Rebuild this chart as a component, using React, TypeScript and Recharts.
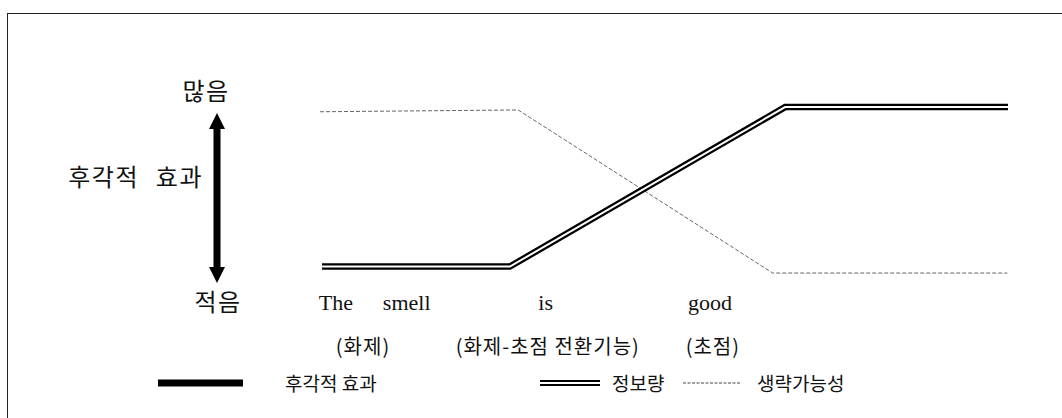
import React from "react";
import { LineChart, Line, XAxis, YAxis, Legend, Customized } from "recharts";

// Horizontal position along the sentence (0 = start of "The", 100 = end of "good")
const infoX = [0.3, 27.6, 67.6, 100];
// 정보량: low over the topic, rising through the verb, high on the focus
const infoY = [5.8, 5.8, 94.4, 94.4];

const omitX = [0, 28.8, 65.8, 99.9];
// 생략가능성: high over the topic, falling to low on the focus
const omitY = [91.8, 92.8, 2.2, 2.2];

const wordLabels = ["The", "smell", "is", "good"];
const wordTicks = [2.3, 12.6, 32.8, 56.7];

const glossLabels = ["(화제)", "(화제-초점 전환기능)", "(초점)"];
const glossTicks = [6.25, 33.1, 57.1];

const scaleLabels = ["많음", "후각적 효과", "적음"];
const legendNames = ["후각적 효과", "정보량", "생략가능성"];

const infoData = infoX.map((x, i) => ({ x, v: infoY[i] }));
const omitData = omitX.map((x, i) => ({ x, v: omitY[i] }));

const W = 1062;
const H = 418;
const KO = "'Noto Sans CJK KR', 'Noto Sans', sans-serif";
const SERIF = "'Liberation Serif', 'DejaVu Serif', serif";

const labelFor = (ticks: number[], labels: string[], value: number) => {
  let best = 0;
  ticks.forEach((t, i) => {
    if (Math.abs(t - value) < Math.abs(ticks[best] - value)) best = i;
  });
  return labels[best];
};

const WordTick = (props: any) => {
  const { x, y, payload } = props;
  return (
    <text x={x} y={y + 33} textAnchor="middle" fontFamily={SERIF} fontSize={22} fill="#111">
      {labelFor(wordTicks, wordLabels, payload.value)}
    </text>
  );
};

const GlossTick = (props: any) => {
  const { x, y, payload } = props;
  return (
    <text
      x={x}
      y={y + 76}
      textAnchor="middle"
      fontFamily={KO}
      fontSize={20}
      letterSpacing={1}
      fill="#111"
    >
      {labelFor(glossTicks, glossLabels, payload.value)}
    </text>
  );
};

// Vertical scale on the left: labels plus a double-headed arrow
const SideScale = () => (
  <g fontFamily={KO} fill="#111">
    <text x={206} y={100} textAnchor="middle" fontSize={24} letterSpacing={1.5}>{scaleLabels[0]}</text>
    <text x={203} y={186} textAnchor="end" fontSize={24} letterSpacing={1.5} wordSpacing={10}>
      {scaleLabels[1]}
    </text>
    <text x={218} y={311} textAnchor="middle" fontSize={24} letterSpacing={1.5}>{scaleLabels[2]}</text>
    <path
      d="M217,113 L225,129 L220.5,129 L220.5,267 L225,267 L217,283 L209,267 L213.5,267 L213.5,129 L209,129 Z"
      fill="#000"
    />
  </g>
);

const legendLayout = [
  { swatchLeft: 158, swatchWidth: 85, textLeft: 285 },
  { swatchLeft: 540, swatchWidth: 60, textLeft: 612 },
  { swatchLeft: 683, swatchWidth: 57, textLeft: 757 },
];

const Swatch = ({ kind, width }: { kind: number; width: number }) => {
  if (kind === 0) {
    return (
      <svg width={width} height={12}>
        <line x1={0} y1={6} x2={width} y2={6} stroke="#000" strokeWidth={7} />
      </svg>
    );
  }
  if (kind === 1) {
    return (
      <svg width={width} height={12}>
        <line x1={0} y1={4} x2={width} y2={4} stroke="#000" strokeWidth={2} />
        <line x1={0} y1={8} x2={width} y2={8} stroke="#000" strokeWidth={2} />
      </svg>
    );
  }
  return (
    <svg width={width} height={12}>
      <line x1={0} y1={6} x2={width} y2={6} stroke="#444" strokeWidth={1} strokeDasharray="3 1.5" />
    </svg>
  );
};

const renderLegend = () => (
  <div style={{ position: "relative", width: W, height: 30 }}>
    {legendNames.map((name, i) => (
      <React.Fragment key={name}>
        <div style={{ position: "absolute", left: legendLayout[i].swatchLeft, top: 9, lineHeight: 0 }}>
          <Swatch kind={i} width={legendLayout[i].swatchWidth} />
        </div>
        <div
          style={{
            position: "absolute",
            left: legendLayout[i].textLeft,
            top: 0,
            fontFamily: KO,
            fontSize: 19,
            lineHeight: "30px",
            color: "#111",
            whiteSpace: "pre",
          }}
        >
          {name}
        </div>
      </React.Fragment>
    ))}
  </div>
);

export default function App() {
  return (
    <div style={{ position: "relative", width: W, height: H, overflow: "hidden", background: "#fff" }}>
      <style>{"body{margin:0}"}</style>
      <div
        style={{
          position: "absolute",
          left: 7,
          top: 13,
          width: W + 20,
          height: H + 20,
          borderTop: "1.5px solid #222",
          borderLeft: "1.5px solid #222",
        }}
      />
      <LineChart
        width={W}
        height={H}
        margin={{ top: 97, right: 54, bottom: 109, left: 320 }}
        style={{ position: "absolute", left: 0, top: 0 }}
      >
        <XAxis
          type="number"
          dataKey="x"
          domain={[0, 100]}
          ticks={wordTicks}
          interval={0}
          tick={WordTick}
          axisLine={false}
          tickLine={false}
          tickSize={0}
          tickMargin={0}
          height={1}
          allowDataOverflow
        />
        <XAxis
          xAxisId="gloss"
          type="number"
          dataKey="x"
          domain={[0, 100]}
          ticks={glossTicks}
          interval={0}
          tick={GlossTick}
          axisLine={false}
          tickLine={false}
          tickSize={0}
          tickMargin={0}
          height={1}
          allowDataOverflow
        />
        <YAxis type="number" domain={[0, 100]} hide />
        <Line
          data={omitData}
          dataKey="v"
          type="linear"
          stroke="#666"
          strokeWidth={1}
          strokeDasharray="4 2"
          dot={false}
          activeDot={false}
          isAnimationActive={false}
          legendType="none"
        />
        <Line
          data={infoData}
          dataKey="v"
          type="linear"
          stroke="#000"
          strokeWidth={6.5}
          strokeLinejoin="miter"
          dot={false}
          activeDot={false}
          isAnimationActive={false}
          legendType="none"
        />
        <Line
          data={infoData}
          dataKey="v"
          type="linear"
          stroke="#fff"
          strokeWidth={2}
          strokeLinejoin="miter"
          dot={false}
          activeDot={false}
          isAnimationActive={false}
          legendType="none"
        />
        <Customized component={SideScale} />
        <Legend
          content={renderLegend}
          wrapperStyle={{ position: "absolute", left: 0, top: 368, width: W, height: 30 }}
        />
      </LineChart>
    </div>
  );
}
